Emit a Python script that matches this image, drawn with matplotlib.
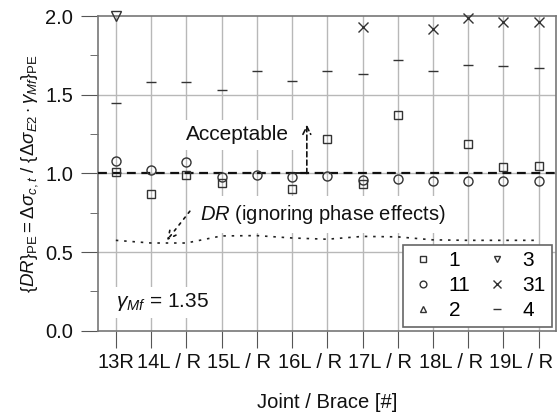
import numpy as np
import matplotlib
matplotlib.use('Agg')
import matplotlib.pyplot as plt

plt.rcParams['font.family'] = ['Liberation Sans', 'DejaVu Sans']
plt.rcParams['mathtext.fontset'] = 'custom'
plt.rcParams['mathtext.rm'] = 'Liberation Sans'
plt.rcParams['mathtext.it'] = 'Liberation Sans:italic'

# %% data
joints = ['13R', '14L', '14R', '15L', '15R', '16L', '16R',
          '17L', '17R', '18L', '18R', '19L', '19R']
label_pos = [1, 2.5, 4.5, 6.5, 8.5, 10.5, 12.5]
label_txt = ['13R', '14L / R', '15L / R', '16L / R', '17L / R', '18L / R', '19L / R']

nan = np.nan
s1 = [1.01, 0.87, 0.99, 0.94, nan, 0.90, 1.22, 0.93, 1.37, nan, 1.19, 1.04, 1.05]
s11 = [1.08, 1.02, 1.07, 0.98, 0.99, 0.98, 0.985, 0.96, 0.965, 0.95, 0.95, 0.95, 0.95]
s2 = [nan] * 13
s3 = [2.0] + [nan] * 12
s31 = [nan] * 7 + [1.93, nan, 1.92, 1.99, 1.96, 1.96]
s4 = [1.45, 1.58, 1.58, 1.53, 1.65, 1.59, 1.65, 1.63, 1.72, 1.65, 1.69, 1.68, 1.67]
dr = [0.575, 0.558, 0.558, 0.603, 0.605, 0.59, 0.582, 0.60, 0.597, 0.578, 0.575, 0.575, 0.575]

x = np.arange(1, len(joints) + 1)

# %% plot
fig = plt.figure(figsize=(5.58, 4.13), dpi=100)
ax = fig.add_axes([0.176, 0.199, 0.821, 0.762])

ec = '#333333'
gc = '#b8b8b8'

for xi in x:
    ax.axvline(xi, color=gc, lw=1, zorder=0)
for yi in [0.5, 1.0, 1.5]:
    ax.axhline(yi, color=gc, lw=1, zorder=0)

ax.axhline(1.0, color='#111111', lw=1.6, ls=(0, (4, 2.5)), zorder=3)
ax.plot(x, dr, color='#222222', lw=1.2, ls=(0, (1.5, 3.5)), zorder=3)

mk = dict(ls='none', mfc='none', mec=ec, mew=1, zorder=5, clip_on=False)
ax.plot(x, s1, marker='s', ms=5.5, label='1', **mk)
ax.plot(x, s11, marker='o', ms=6.5, label='11', **mk)
ax.plot(x, s2, marker='^', ms=6, label='2', **mk)
ax.plot(x, s3, marker='v', ms=6.5, label='3', **mk)
ax.plot(x, s31, marker='x', ms=7, label='31', **mk)
ax.plot(x, s4, marker='_', ms=7, label='4', **mk)

# annotations
ax.text(3.0, 1.245, 'Acceptable', fontsize=15, va='center', ha='left', color='#111111',
        bbox=dict(facecolor='white', edgecolor='none', pad=4), zorder=2)
ax.annotate('', xy=(6.42, 1.31), xytext=(6.42, 1.0),
            arrowprops=dict(arrowstyle='->', ls=(0, (3, 2)), lw=1.2, color='#111111',
                            shrinkA=0, shrinkB=0, mutation_scale=14), zorder=4)
ax.plot([6.0, 6.42], [1.0, 1.0], color='#111111', lw=1.3, zorder=3)

ax.text(3.4, 0.74, r'$DR$ (ignoring phase effects)', fontsize=14.5, va='center', ha='left',
        color='#111111', bbox=dict(facecolor='white', edgecolor='none', pad=5), zorder=2)
ax.annotate('', xy=(2.45, 0.575), xytext=(3.1, 0.76),
            arrowprops=dict(arrowstyle='->', ls=(0, (1.5, 3)), lw=1.2, color='#111111',
                            shrinkA=0, shrinkB=0, mutation_scale=14), zorder=4)

ax.text(1.0, 0.18, r'$\gamma_{Mf}$ = 1.35', fontsize=15, va='center', ha='left',
        color='#111111', bbox=dict(facecolor='white', edgecolor='none', pad=3), zorder=2)

# axes
ax.set_xlim(0.5, 13.5)
ax.set_ylim(0, 2.0)
ax.set_yticks([0, 0.5, 1.0, 1.5, 2.0])
ax.set_yticklabels(['0.0', '0.5', '1.0', '1.5', '2.0'])
ax.set_yticks(np.arange(0.25, 2.0, 0.5), minor=True)
ax.xaxis.remove_overlapping_locs = False
ax.set_xticks(x)
ax.set_xticklabels([''] * len(x))
ax.set_xticks(label_pos, minor=True)
ax.set_xticklabels(label_txt, minor=True)
ax.tick_params(axis='x', which='major', direction='out', length=12, color='#555555')
ax.tick_params(axis='x', which='minor', length=0, pad=16, labelsize=14.5, labelcolor='#111111')
ax.tick_params(axis='y', which='major', direction='out', length=12, pad=6,
               labelsize=14.5, color='#555555', labelcolor='#111111')
ax.tick_params(axis='y', which='minor', direction='out', length=6, color='#555555')
for sp in ax.spines.values():
    sp.set_color('#777777')
    sp.set_linewidth(1.2)

ax.set_xlabel('Joint / Brace [#]', fontsize=14.5, color='#111111', labelpad=15)
ax.set_ylabel(r'$\{DR\}_{\mathrm{PE}} = \Delta\sigma_{c,t}\ /\ \{\Delta\sigma_{E2}\cdot\gamma_{Mf}\}_{\mathrm{PE}}$',
              fontsize=13.5, color='#111111', labelpad=4)

leg = ax.legend(ncol=2, loc='lower right', fontsize=15, frameon=True, fancybox=False,
                edgecolor='#666666', framealpha=1, borderaxespad=0.2, borderpad=0.3,
                handlelength=1.3, columnspacing=0.6, handletextpad=0.6,
                labelspacing=0.3, markerscale=0.75)
leg.get_frame().set_linewidth(1.2)
leg.set_zorder(6)

fig.savefig('out.png', dpi=100)
